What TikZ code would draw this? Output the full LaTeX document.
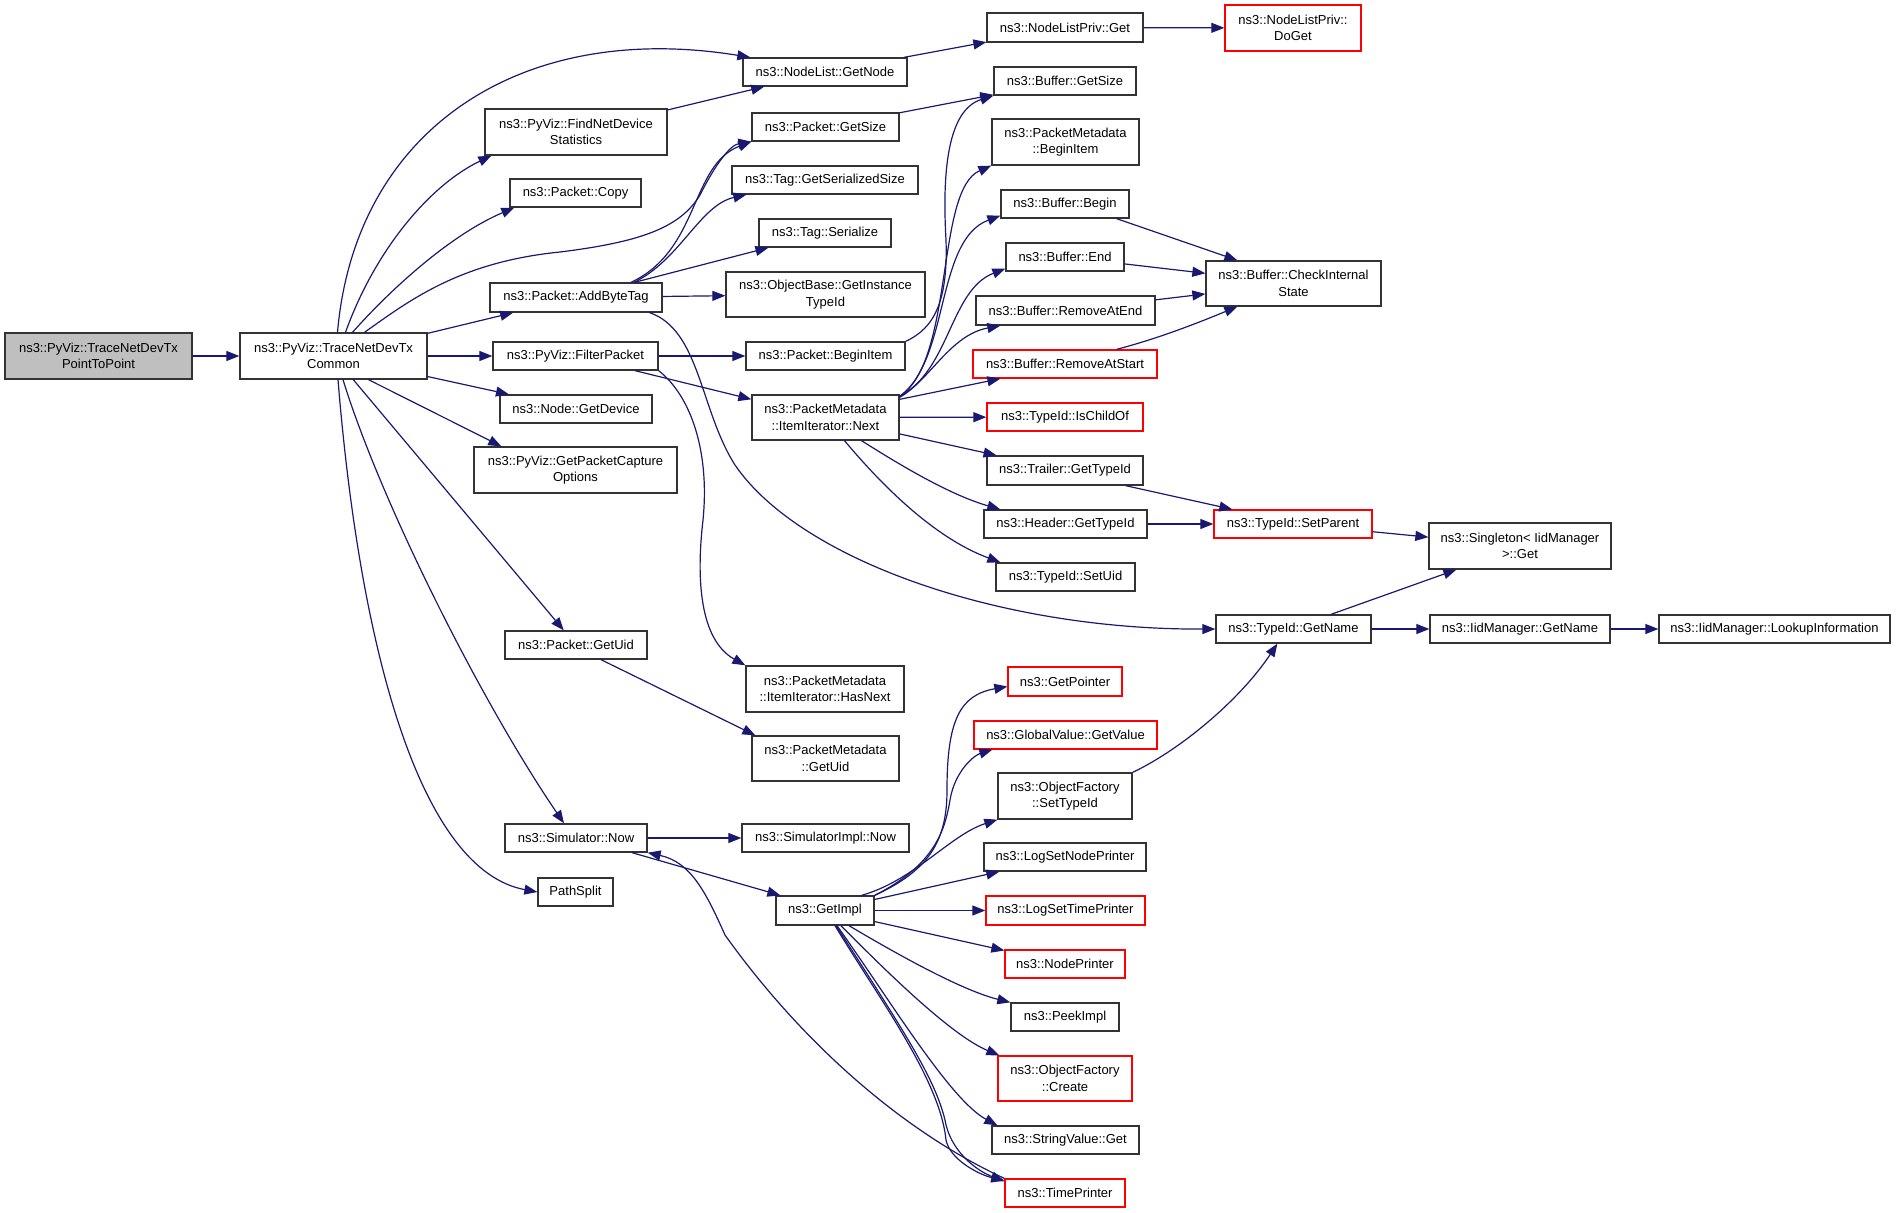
\documentclass[tikz,border=0pt]{standalone}
\usepackage{fontspec}
\setmainfont{Liberation Sans}
\usetikzlibrary{arrows.meta}
\definecolor{edgec}{HTML}{191970}
\definecolor{rootfill}{HTML}{BFBFBF}
\definecolor{redc}{HTML}{FF0000}
\definecolor{boxc}{HTML}{333333}
\newcommand\bx[7][]{%
  \pgfmathsetmacro\bxw{#5-#3}\pgfmathsetmacro\bxh{#6-#4}%
  \pgfmathsetmacro\bxcx{(#3+#5)/2}\pgfmathsetmacro\bxcy{(#4+#6)/2}%
  \node[box,#1,minimum width=\bxw pt,minimum height=\bxh pt] (#2) at (\bxcx,\bxcy) {#7};}
\begin{document}
\begin{tikzpicture}[x=1pt,y=-1pt,
  font=\fontsize{13}{16.5}\selectfont,
  box/.style={rectangle,draw=boxc,line width=1.3pt,inner sep=0pt,align=center,fill=white},
  redbox/.style={draw=redc},
  root/.style={fill=rootfill},
  edge/.style={draw=edgec,line width=1.2pt,-{Triangle[length=13pt,width=10pt]}}]
\useasboundingbox (0,0) rectangle (1896,1213);
% nodes
\bx[root]{P}{5}{333}{192}{379}{ns3::PyViz::TraceNetDevTx\\PointToPoint}
\bx{C}{240}{333}{427}{379}{ns3::PyViz::TraceNetDevTx\\Common}
\bx{GN}{743}{58}{907}{86}{ns3::NodeList::GetNode}
\bx{FND}{485}{109}{667}{155}{ns3::PyViz::FindNetDevice\\Statistics}
\bx{PGS}{752}{113}{899}{141}{ns3::Packet::GetSize}
\bx{TGSS}{732}{166}{918}{194}{ns3::Tag::GetSerializedSize}
\bx{PC}{510}{179}{641}{207}{ns3::Packet::Copy}
\bx{TS}{759}{219}{891}{247}{ns3::Tag::Serialize}
\bx{OBG}{726}{272}{925}{317}{ns3::ObjectBase::GetInstance\\TypeId}
\bx{ABT}{490}{283}{662}{312}{ns3::Packet::AddByteTag}
\bx{FP}{493}{342}{658}{370}{ns3::PyViz::FilterPacket}
\bx{PBI}{746}{342}{905}{370}{ns3::Packet::BeginItem}
\bx{NX}{752}{395}{899}{440}{ns3::PacketMetadata\\::ItemIterator::Next}
\bx{ND}{500}{395}{652}{423}{ns3::Node::GetDevice}
\bx{PCO}{474}{447}{677}{493}{ns3::PyViz::GetPacketCapture\\Options}
\bx{PGU}{505}{631}{647}{659}{ns3::Packet::GetUid}
\bx{HN}{746}{666}{904}{712}{ns3::PacketMetadata\\::ItemIterator::HasNext}
\bx{PMGU}{752}{736}{899}{781}{ns3::PacketMetadata\\::GetUid}
\bx{SN}{505}{824}{647}{852}{ns3::Simulator::Now}
\bx{SIN}{742}{824}{909}{852}{ns3::SimulatorImpl::Now}
\bx{PS}{538}{878}{613}{906}{PathSplit}
\bx{GI}{776}{896}{874}{925}{ns3::GetImpl}
\bx{NLPG}{987}{13}{1143}{42}{ns3::NodeListPriv::Get}
\bx[redbox]{NLPD}{1225}{5}{1361}{51}{ns3::NodeListPriv::\\DoGet}
\bx{BGS}{994}{67}{1136}{95}{ns3::Buffer::GetSize}
\bx{PMBI}{992}{119}{1139}{165}{ns3::PacketMetadata\\::BeginItem}
\bx{BB}{1001}{190}{1129}{218}{ns3::Buffer::Begin}
\bx{BE}{1006}{243}{1124}{271}{ns3::Buffer::End}
\bx{CIS}{1206}{261}{1381}{306}{ns3::Buffer::CheckInternal\\State}
\bx{BRE}{976}{296}{1155}{325}{ns3::Buffer::RemoveAtEnd}
\bx[redbox]{BRS}{973}{350}{1157}{378}{ns3::Buffer::RemoveAtStart}
\bx[redbox]{ICO}{987}{403}{1143}{431}{ns3::TypeId::IsChildOf}
\bx{TGT}{987}{456}{1143}{485}{ns3::Trailer::GetTypeId}
\bx{HGT}{984}{510}{1147}{538}{ns3::Header::GetTypeId}
\bx[redbox]{SP}{1214}{510}{1372}{538}{ns3::TypeId::SetParent}
\bx{SU}{996}{563}{1135}{591}{ns3::TypeId::SetUid}
\bx{TGN}{1216}{615}{1371}{643}{ns3::TypeId::GetName}
\bx[redbox]{GP}{1008}{667}{1122}{696}{ns3::GetPointer}
\bx[redbox]{GV}{974}{721}{1157}{749}{ns3::GlobalValue::GetValue}
\bx{OFS}{998}{773}{1132}{819}{ns3::ObjectFactory\\::SetTypeId}
\bx{LSN}{984}{843}{1146}{871}{ns3::LogSetNodePrinter}
\bx[redbox]{LST}{986}{896}{1145}{925}{ns3::LogSetTimePrinter}
\bx[redbox]{NP}{1005}{950}{1125}{978}{ns3::NodePrinter}
\bx{PI}{1011}{1003}{1119}{1031}{ns3::PeekImpl}
\bx[redbox]{OFC}{998}{1056}{1132}{1101}{ns3::ObjectFactory\\::Create}
\bx{SVG}{992}{1126}{1139}{1154}{ns3::StringValue::Get}
\bx[redbox]{TP}{1005}{1179}{1125}{1207}{ns3::TimePrinter}
\bx{SG}{1429}{523}{1611}{569}{ns3::Singleton< IidManager\\>::Get}
\bx{IGN}{1430}{615}{1610}{643}{ns3::IidManager::GetName}
\bx{ILI}{1659}{615}{1890}{643}{ns3::IidManager::LookupInformation}
% edges from root / common
\draw[edge] (P) -- (C);
\draw[edge] ([xshift=4pt]C.north) .. controls (355,130) and (520,20) .. ([xshift=8pt]GN.north west);
\draw[edge] ([xshift=12pt]C.north) .. controls (375,250) and (430,185) .. ([xshift=7pt]FND.south west);
\draw[edge] ([xshift=19pt]C.north) .. controls (390,290) and (450,235) .. ([xshift=5pt]PC.south west);
\draw[edge] ([xshift=31pt]C.north) .. controls (410,300) and (460,262) .. (560,252) .. controls (640,242) and (680,228) .. (700,195) .. controls (715,165) and (730,145) .. (PGS.south west);
\draw[edge] (C) -- (ABT);
\draw[edge] (C) -- (FP);
\draw[edge] (C) -- (ND);
\draw[edge] ([xshift=35pt]C.south) -- ([xshift=28pt]PCO.north west);
\draw[edge] (C) -- (PGU);
\draw[edge] ([xshift=9.5pt]C.south) .. controls (380,500) and (480,700) .. ([xshift=-12pt]SN.north);
\draw[edge] ([xshift=4.5pt]C.south) .. controls (360,650) and (420,870) .. (PS.west);
% top area
\draw[edge] (FND) -- (GN);
\draw[edge] (GN) -- (NLPG);
\draw[edge] (NLPG) -- (NLPD);
\draw[edge] (PGS) -- (BGS);
\draw[edge] (PBI.north east) .. controls (935,328) and (948,300) .. (946,240) .. controls (942,170) and (948,110) .. (BGS.south west);
% AddByteTag
\draw[edge] (ABT) -- (OBG);
\draw[edge] (ABT) -- (TS);
\draw[edge] ([xshift=58pt]ABT.north) .. controls (680,260) and (700,205) .. ([xshift=15pt]TGSS.south west);
\draw[edge] ([xshift=55pt]ABT.north) .. controls (700,250) and (690,165) .. (PGS.south west);
\draw[edge] ([xshift=-13pt]ABT.south east) .. controls (700,330) and (700,410) .. (735,465) .. controls (800,560) and (1000,630) .. (TGN.west);
% FilterPacket
\draw[edge] (FP) -- (PBI);
\draw[edge] (FP) -- (NX);
\draw[edge] (FP.south east) .. controls (690,395) and (710,450) .. (703,520) .. controls (696,580) and (700,640) .. (HN.north west);
% ItemIterator::Next
\draw[edge] ([yshift=-2pt]NX.north east) .. controls (955,360) and (935,190) .. (PMBI.south west);
\draw[edge] ([yshift=-2pt]NX.north east) .. controls (950,360) and (935,240) .. ([yshift=3pt]BB.south west);
\draw[edge] ([yshift=-2pt]NX.north east) .. controls (950,370) and (950,290) .. ([yshift=3pt]BE.south west);
\draw[edge] ([yshift=-3pt]NX.north east) .. controls (930,380) and (950,335) .. ([xshift=25pt]BRE.south west);
\draw[edge] ([yshift=-5pt]NX.north east) -- ([xshift=28pt]BRS.south west);
\draw[edge] (NX) -- (ICO);
\draw[edge] (NX) -- (TGT);
\draw[edge] ([xshift=36pt]NX.south) .. controls (900,465) and (950,495) .. ([xshift=17pt]HGT.north west);
\draw[edge] ([xshift=19pt]NX.south) .. controls (890,495) and (940,540) .. ([xshift=5pt]SU.north west);
% buffer
\draw[edge] ([xshift=-13pt]BB.south east) -- ([xshift=32pt]CIS.north west);
\draw[edge] (BE) -- (CIS);
\draw[edge] (BRE) -- (CIS);
\draw[edge] ([xshift=-41pt]BRS.north east) .. controls (1160,338) and (1200,322) .. ([xshift=32pt]CIS.south west);
% typeid
\draw[edge] ([xshift=-18pt]TGT.south east) -- ([xshift=19pt]SP.north west);
\draw[edge] (HGT) -- (SP);
\draw[edge] (SP) -- (SG);
\draw[edge] ([xshift=37.5pt]TGN.north) -- ([xshift=28pt]SG.south west);
\draw[edge] (TGN) -- (IGN);
\draw[edge] (IGN) -- (ILI);
\draw[edge] (OFS.north east) .. controls (1180,750) and (1240,700) .. ([xshift=62pt]TGN.south west);
% uid
\draw[edge] ([xshift=25pt]PGU.south) -- ([xshift=4pt]PMGU.north west);
% simulator
\draw[edge] (SN) -- (SIN);
\draw[edge] ([xshift=56pt]SN.south) -- ([xshift=5pt]GI.north west);
\draw[edge] (TP.north west) .. controls (900,1130) and (800,1040) .. (725,935) .. controls (705,890) and (690,862) .. (SN.south east);
% GetImpl
\draw[edge] (GI.north east) .. controls (930,870) and (947,840) .. (947,790) .. controls (947,720) and (960,695) .. ([yshift=-5pt]GP.west);
\draw[edge] (GI.north east) .. controls (935,865) and (945,830) .. (950,800) .. controls (955,770) and (975,755) .. ([xshift=19pt]GV.south west);
\draw[edge] ([xshift=-13pt]GI.north east) .. controls (915,880) and (950,835) .. (OFS.south west);
\draw[edge] (GI) -- (LSN);
\draw[edge] (GI) -- (LST);
\draw[edge] (GI) -- (NP);
\draw[edge] ([xshift=24pt]GI.south) .. controls (890,950) and (960,990) .. (PI.north west);
\draw[edge] ([xshift=16pt]GI.south) .. controls (880,965) and (950,1035) .. ([xshift=2pt]OFC.north west);
\draw[edge] ([xshift=12pt]GI.south) .. controls (890,1000) and (950,1100) .. ([xshift=6pt]SVG.north west);
\draw[edge] ([xshift=11pt]GI.south) .. controls (910,1040) and (935,1080) .. (945,1120) .. controls (950,1150) and (975,1170) .. ([yshift=-3pt]TP.north west);
\draw[edge] ([xshift=10pt]GI.south) .. controls (880,1000) and (940,1080) .. (946,1140) .. controls (950,1160) and (980,1175) .. ([yshift=-2pt]TP.north west);
\end{tikzpicture}
\end{document}
